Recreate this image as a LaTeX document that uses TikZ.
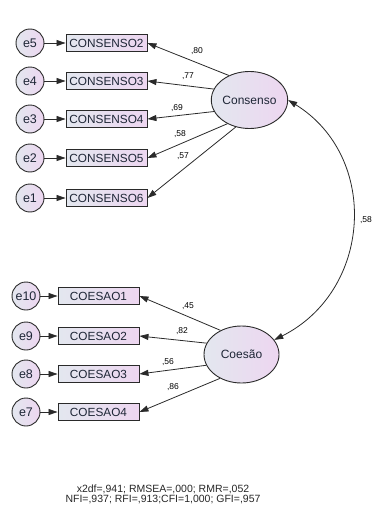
\documentclass[tikz,border=0pt]{standalone}
\usepackage{fontspec}
\setmainfont{Liberation Sans}
\usetikzlibrary{arrows.meta,shapes.geometric}
\definecolor{lineC}{HTML}{2A2A2A}
\definecolor{fillL}{HTML}{E3E7EF}
\definecolor{fillR}{HTML}{EDD6F0}
\definecolor{txtC}{HTML}{1E2636}
\tikzset{
  obs/.style={draw=lineC, line width=0.9pt, rectangle, minimum width=81pt, minimum height=17pt, inner sep=0pt,
    left color=fillL, right color=fillR, text=txtC, font=\fontsize{11.8}{13}\selectfont},
  err/.style={draw=lineC, line width=0.9pt, circle, minimum size=28pt, inner sep=0pt,
    left color=fillL, right color=fillR, text=txtC, font=\fontsize{12.5}{14}\selectfont},
  lat/.style={draw=lineC, line width=0.9pt, ellipse, minimum width=75pt, minimum height=57pt, inner sep=0pt,
    left color=fillL, right color=fillR, text=txtC, font=\fontsize{12}{14}\selectfont},
  arr/.style={draw=lineC, line width=0.8pt, -{Triangle[length=9pt,width=6pt]}},
  lbl/.style={font=\fontsize{8.5}{10}\selectfont, text=black, inner sep=0pt},
  fit/.style={font=\fontsize{10.5}{11.5}\selectfont, text=black!85, inner sep=0pt, align=center}
}
\begin{document}
\begin{tikzpicture}[x=1pt,y=-1pt]
\useasboundingbox (0,0) rectangle (372,506);
% latent
\node[lat] (cons) at (249.5,100) {Consenso};
\node[lat] (coes) at (241.5,354.5) {Coesão};
% Consenso indicators
\node[obs] (c2) at (106.5,43) {CONSENSO2};
\node[obs] (c3) at (106.5,81) {CONSENSO3};
\node[obs] (c4) at (106.5,119) {CONSENSO4};
\node[obs] (c5) at (106.5,158) {CONSENSO5};
\node[obs] (c6) at (106.5,198) {CONSENSO6};
\node[err] (e5) at (30,43) {e5};
\node[err] (e4) at (30,81) {e4};
\node[err] (e3) at (30,119) {e3};
\node[err] (e2) at (30,158) {e2};
\node[err] (e1) at (30,198) {e1};
% Coesao indicators
\node[obs] (k1) at (98.5,296) {COESAO1};
\node[obs] (k2) at (98.5,336) {COESAO2};
\node[obs] (k3) at (98.5,374) {COESAO3};
\node[obs] (k4) at (98.5,412) {COESAO4};
\node[err] (e10) at (26,296) {e10};
\node[err] (e9) at (26,336) {e9};
\node[err] (e8) at (26,374) {e8};
\node[err] (e7) at (26,412) {e7};
% error arrows
\foreach \e/\b in {e5/c2,e4/c3,e3/c4,e2/c5,e1/c6,e10/k1,e9/k2,e8/k3,e7/k4}
  \draw[arr] (\e.east) -- (\b.west);
% loadings
\draw[arr] (cons.130) -- (c2.east);
\draw[arr] (cons.163) -- (c3.east);
\draw[arr] (cons.198) -- (c4.east);
\draw[arr] (cons.227) -- (c5.east);
\draw[arr] (cons.243) -- (c6.east);
\draw[arr] (coes.131) -- (k1.east);
\draw[arr] (coes.162) -- (k2.east);
\draw[arr] (coes.197) -- (k3.east);
\draw[arr] (coes.228) -- (k4.east);
% covariance
\draw[draw=lineC, line width=0.8pt, {Triangle[length=9pt,width=6pt]}-{Triangle[length=9pt,width=6pt]}]
  (cons.east) .. controls (380,157) and (372,291) .. (coes.24);
% labels
\node[lbl] (l80) at (197,51) {,80};
\node[lbl] (l77) at (188,76) {,77};
\node[lbl] (l69) at (177,108) {,69};
\node[lbl] (l58a) at (180,134) {,58};
\node[lbl] (l57) at (183,156) {,57};
\node[lbl] (l45) at (188,306) {,45};
\node[lbl] (l82) at (182,331) {,82};
\node[lbl] (l56) at (168,362) {,56};
\node[lbl] (l86) at (173,387) {,86};
\node[lbl] (l58b) at (366,220) {,58};
% fit indices
\node[fit] (fit1) at (163,489.5) {x2df=,941; RMSEA=,000; RMR=,052};
\node[fit] (fit2) at (163,500) {NFI=,937; RFI=,913;CFI=1,000; GFI=,957};
\end{tikzpicture}
\end{document}
